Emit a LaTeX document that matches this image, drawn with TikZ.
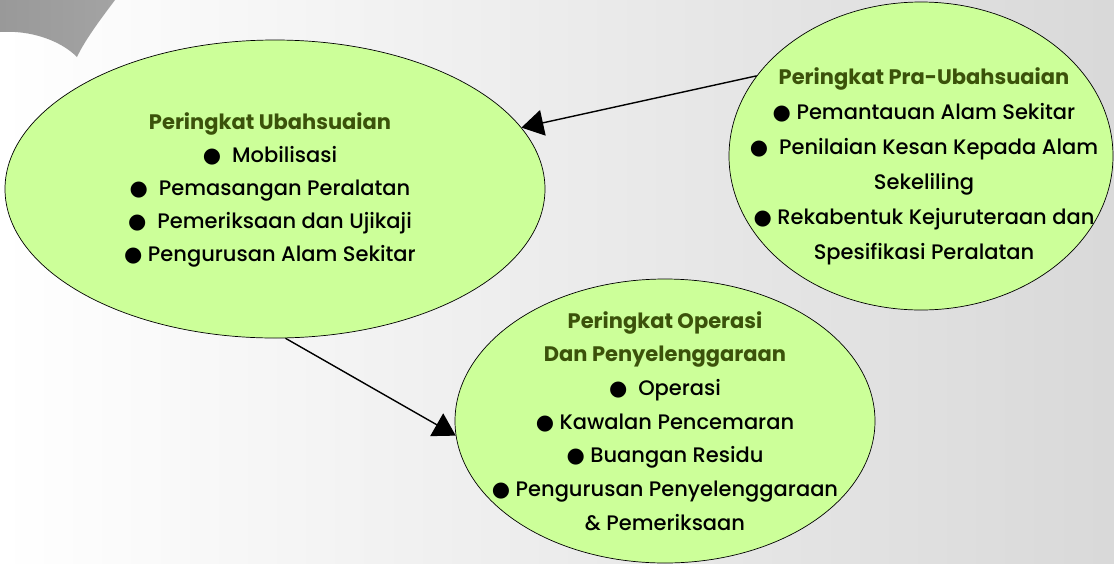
\documentclass[tikz,border=0pt]{standalone}
\usepackage{fontspec}
\setmainfont{Poppins}[UprightFont=* Medium, BoldFont=* Bold]
\newfontfamily\symfont{DejaVu Sans}
\usetikzlibrary{arrows.meta,shapes.geometric}
\definecolor{daun}{HTML}{CCFF99}
\definecolor{tajuk}{HTML}{3B520A}
\newcommand{\bul}{{\symfont ●}}
\newcommand{\tajuk}[1]{{\bfseries\color{tajuk}#1}}
\begin{document}
\begin{tikzpicture}[x=1pt,y=-1pt,
		peringkat/.style={ellipse, draw=black, line width=0.7pt, fill=daun, inner sep=0pt},
		teks/.style={align=center, inner sep=0pt},
		panah/.style={-{Triangle[length=22pt,width=26pt]}, line width=1.4pt}]
		\useasboundingbox (0,0) rectangle (1114,563);
		% latar belakang
		\shade [left color=white, right color=black!15] (0,0) rectangle (1114,563);
		\shade [left color=black!40, right color=black!36] (0,0) -- (115,0) .. controls (100,20) and (85,40) .. (77,57) .. controls (60,40) and (30,30) .. (0,32) -- cycle;

		% peringkat ubahsuaian
		\node [peringkat, minimum width=540pt, minimum height=298pt] (ubah) at (275,189) {};
		\node [teks, font=\fontsize{21}{33}\selectfont] (ubah-teks) at (270,190) {%
			\tajuk{Peringkat Ubahsuaian}\\
			\bul\ \ Mobilisasi\\
			\bul\ \ Pemasangan Peralatan\\
			\bul\ \ Pemeriksaan dan Ujikaji\\
			\bul\ Pengurusan Alam Sekitar};

		% peringkat pra-ubahsuaian
		\node [peringkat, minimum width=384pt, minimum height=308pt] (pra) at (921,156) {};
		\node [teks, font=\fontsize{21}{35}\selectfont] (pra-teks) at (924,166) {%
			\tajuk{Peringkat Pra-Ubahsuaian}\\
			\bul\ Pemantauan Alam Sekitar\\
			\bul\ \ Penilaian Kesan Kepada Alam\\
			Sekeliling\\
			\bul\ Rekabentuk Kejuruteraan dan\\
			Spesifikasi Peralatan};

		% peringkat operasi
		\node [peringkat, minimum width=420pt, minimum height=284pt] (operasi) at (665,421) {};
		\node [teks, font=\fontsize{21}{33.7}\selectfont] (operasi-teks) at (665,421) {%
			\tajuk{Peringkat Operasi}\\
			\tajuk{Dan Penyelenggaraan}\\
			\bul\ \ Operasi\\
			\bul\ Kawalan Pencemaran\\
			\bul\ Buangan Residu\\
			\bul\ Pengurusan Penyelenggaraan\\
			\& Pemeriksaan};

		\draw [panah] (pra.154) -- (ubah.14);
		\draw [panah] (ubah.-86) -- (operasi.-176);
	\end{tikzpicture}
\end{document}
